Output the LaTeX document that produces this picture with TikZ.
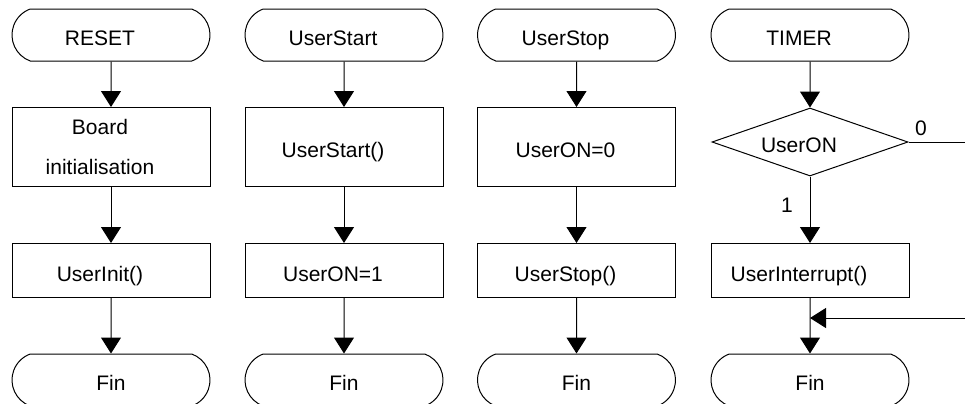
\documentclass[tikz,border=0pt]{standalone}
\usepackage{fontspec}
\setmainfont{Liberation Sans}
\usetikzlibrary{shapes.geometric,shapes.misc,arrows.meta}

\tikzset{
    term/.style = {draw, rounded rectangle, rounded rectangle arc length=140,
                   minimum width=99pt, minimum height=26pt, inner sep=0pt},
    proc/.style = {draw, rectangle, minimum width=99pt, inner sep=0pt, align=center},
    test/.style = {draw, diamond, aspect=2.9, minimum width=98pt,
                   minimum height=34pt, inner sep=0pt},
    % text sits a little low and to the left inside its shape
    txt/.style  = {text height=12pt, text depth=1.5pt,
                   execute at begin node={\hspace*{-11pt}}},
    flow/.style = {-{Triangle[length=8pt, width=10pt]}},
}

\begin{document}
\begin{tikzpicture}[x=0.5pt, y=-0.5pt, line width=0.5pt, font=\fontsize{10.5}{12.6}\selectfont]
    \useasboundingbox (0,0) rectangle (965,403);
    \clip (0,0) rectangle (965,403);

    % Entry and exit terminals of the four routines
    \foreach \x/\i/\name in {111/1/RESET, 344/2/UserStart, 576.5/3/UserStop, 810/4/TIMER} {
        \node [term, txt] (start\i) at (\x,35) {\name};
        \node [term, text height=12pt, text depth=1.5pt] (fin\i) at (\x,380) {Fin};
    }

    % Two steps for each of the first three routines
    \node [proc, minimum height=39.5pt, execute at begin node={\hspace*{-11pt}}] (a1) at (111,147)
        {Board\\[7pt]initialisation};
    \foreach \x/\i/\top in {344/2/UserStart(), 576.5/3/UserON=0} {
        \node [proc, txt, minimum height=39.5pt] (a\i) at (\x,147) {\top};
    }
    \foreach \x/\i/\bot in {111/1/UserInit(), 344/2/UserON=1, 576.5/3/UserStop()} {
        \node [proc, txt, minimum height=27pt] (b\i) at (\x,270.5) {\bot};
    }

    \foreach \i in {1,2,3} {
        \draw [flow] (start\i) -- (a\i);
        \draw [flow] (a\i) -- (b\i);
        \draw [flow] (b\i) -- (fin\i);
    }

    % Timer routine: test then optional call
    \node [test, txt] (test) at (810,142) {UserON};
    \node [proc, txt, minimum height=27pt] (uint) at (810,270.5) {UserInterrupt()};
    \node (lbl0) at (921,128) {0};
    \node (lbl1) at (787,205) {1};
    \coordinate (loopr) at (975,142);
    \coordinate (join) at (810,318);

    \draw [flow] (start4) -- (test);
    \draw [flow] (test) -- (uint);
    \draw [flow] (uint) -- (fin4);
    \draw [flow] (test.east) -- (loopr) |- (join);
\end{tikzpicture}
\end{document}
